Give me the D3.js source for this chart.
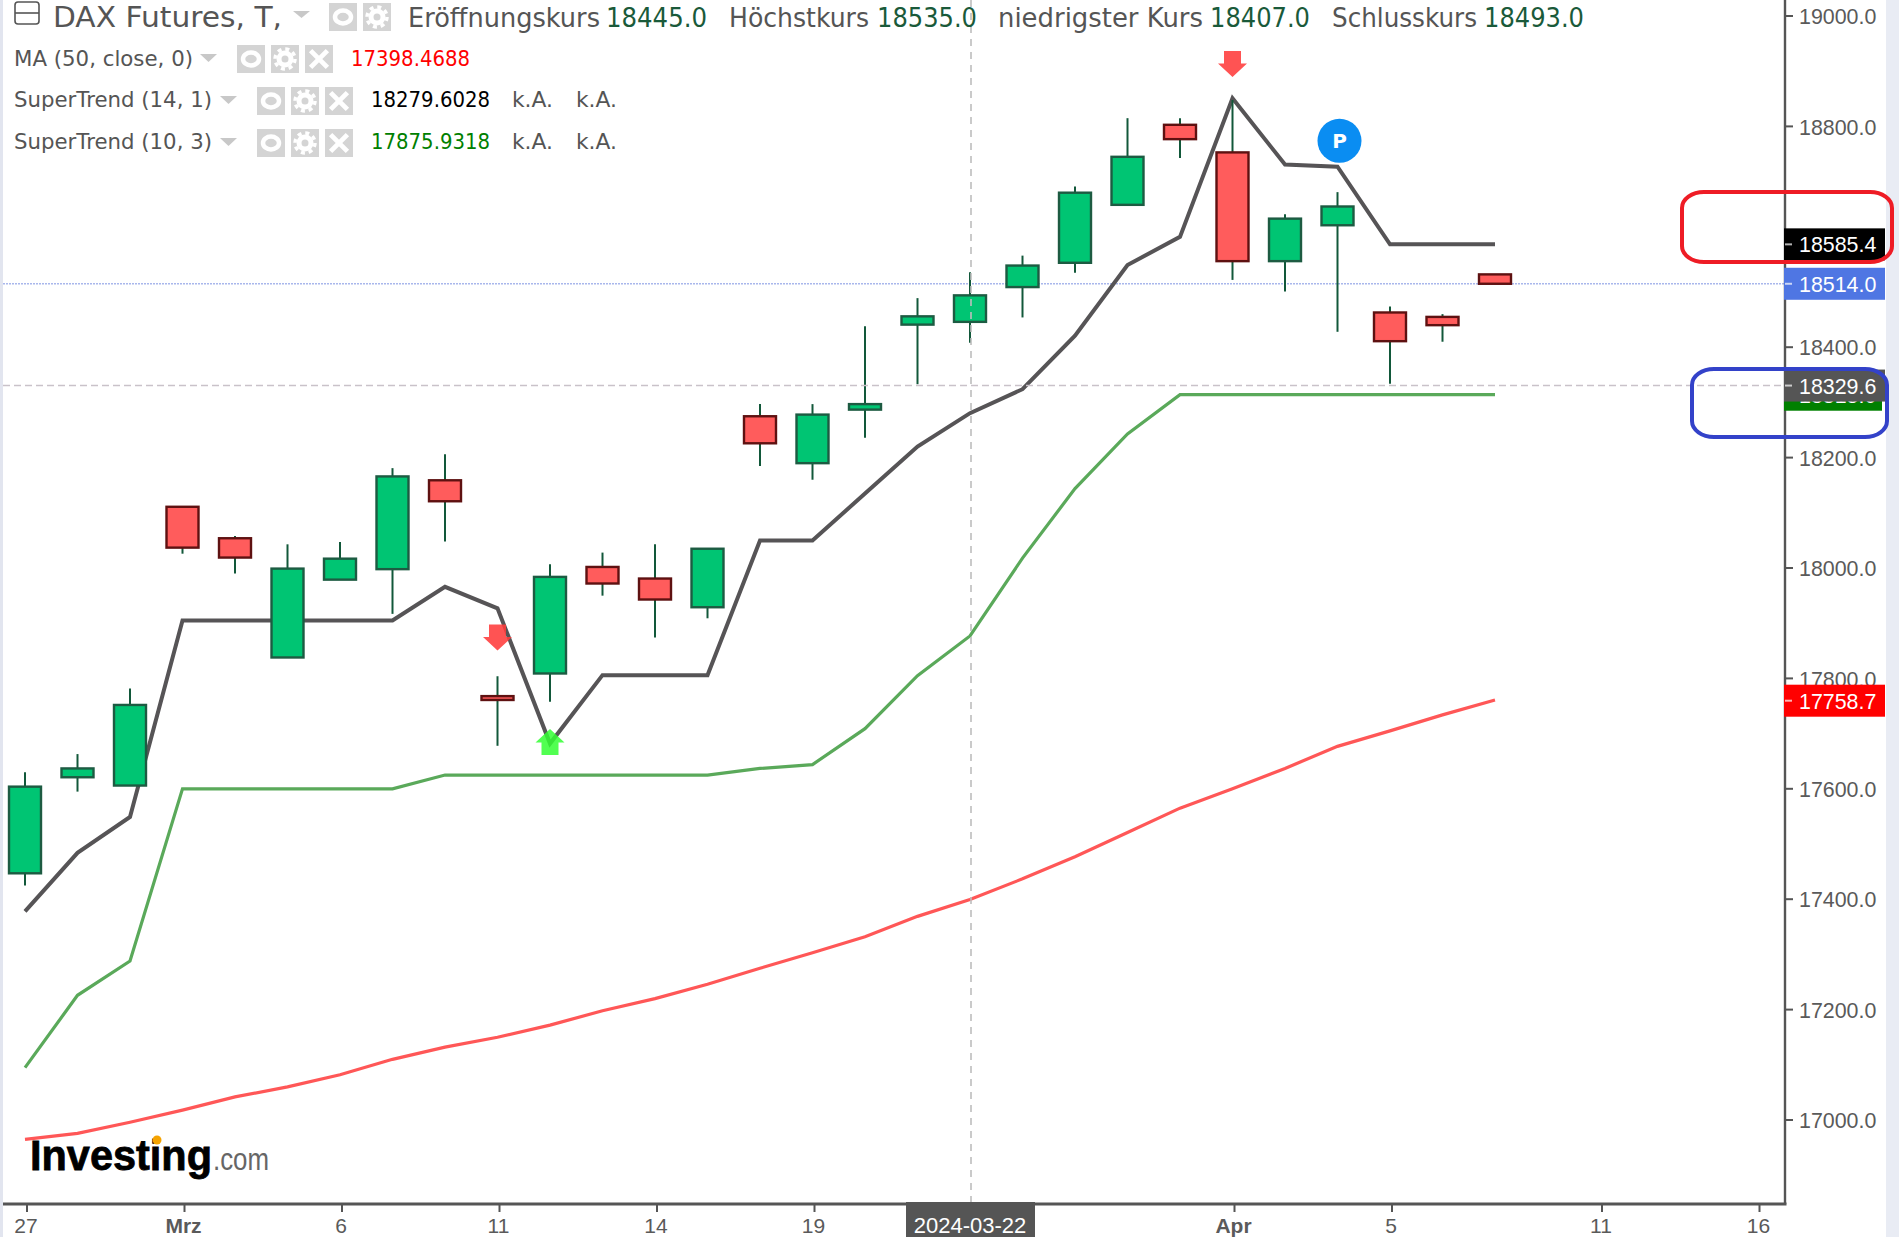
<!DOCTYPE html>
<html lang="de">
<head>
<meta charset="utf-8">
<title>DAX Futures</title>
<script src="https://cdnjs.cloudflare.com/ajax/libs/d3/7.8.5/d3.min.js"></script>
<style>
html,body{margin:0;padding:0;background:#fff;overflow:hidden}
svg{display:block}
</style>
</head>
<body>
<svg id="chart" width="1899" height="1237"></svg>
<script>
// ---------- data ----------
const opens  = [17446,17620,17605,18110,18053,17837,17978,17997,18158,17767,17808,18001,17980,17928,18274,18189,18286,18440,18445,18508,18552,18657,18802,18752,18555,18620,18462,18454,18531];
const closes = [17603,17636,17751,18036,18018,17998,18016,18165,18120,17760,17983,17971,17942,18034,18225,18277,18296,18455,18493,18547,18679,18744,18776,18555,18632,18654,18410,18439,18514];
const highs  = [17629,17662,17781,18110,18057,18042,18046,18180,18205,17803,18006,18027,18042,18034,18296,18296,18437,18488,18535,18565,18690,18814,18814,18847,18640,18680,18473,18459,18531];
const lows   = [17424,17594,17605,18025,17989,17837,17978,17916,18047,17677,17757,17949,17873,17908,18184,18159,18235,18332,18407,18453,18534,18657,18742,18521,18500,18427,18333,18409,18514];
const superTrend14 = [17377,17483,17548,17904,17904,17904,17904,17904,17965,17926,17681,17805,17805,17805,18049,18049,18134,18219,18279.6,18323,18420,18548,18599,18850,18730,18726,18585.4,18585.4,18585.4];
const superTrend10 = [17094,17225,17287,17599,17599,17599,17599,17599,17624,17624,17624,17624,17624,17624,17636,17643,17708,17804,17875.9,18017,18143,18242,18313,18313,18313,18313,18313,18313,18313];
const ma50 = [16964,16975,16995,17017,17041,17059,17081,17109,17131,17149,17171,17197,17219,17245,17274,17302,17331,17368,17398.5,17436,17476,17520,17564,17599,17636,17676,17704,17733,17760];
const yTickValues = [17000,17200,17400,17600,17800,18000,18200,18400,18600,18800,19000];
const xTickPositions = [0,3,6,9,12,15,23,26,30,33];
const xTickLabels = ["27","Mrz","6","11","14","19","Apr","5","11","16"];
const boldTickLabels = ["Mrz","Apr"];
const crosshairIndex = 18;
const crosshairDate = "2024-03-22";
const crosshairPrice = 18329.6;
const lastPrice = 18514.0;
const priceLabels = [
  {value:17758.7, fill:"#ff0000"},
  {value:18313.0, fill:"#008000"},
  {value:18585.4, fill:"#000000"},
  {value:18514.0, fill:"#4f76e3"},
  {value:18329.6, fill:"#555555"}
];
const sellArrows = [{i:9, value:17873},{i:23, value:18912}];
const buyArrows  = [{i:10, value:17684}];
const pivotMarks = [{i:25, value:18773}];
const ohlcNames  = ["Eröffnungskurs","Höchstkurs","niedrigster Kurs","Schlusskurs"];
const ohlcValues = ["18445.0","18535.0","18407.0","18493.0"];
const indicatorNames = ["MA (50, close, 0)","SuperTrend (14, 1)","SuperTrend (10, 3)"];
const indicatorValues = ["17398.4688","18279.6028","17875.9318"];
const indicatorColors = ["#ff0000","#000000","#008000"];

// ---------- scales ----------
const W = 1899, H = 1237, axisX = 1785, axisY = 1204;
const x = d3.scaleLinear().domain([0,28]).range([25,1495]);
const y = d3.scaleLinear().domain([17000,19000]).range([1119.5,15.5]);
const svg = d3.select("#chart");
const sansA = "'Liberation Sans',Arial,sans-serif";
const sansB = "'DejaVu Sans',sans-serif";

// ---------- frame ----------
svg.append("rect").attr("width",W).attr("height",H).attr("fill","#fff");
svg.append("rect").attr("x",1886).attr("width",W-1886).attr("height",H).attr("fill","#e9ecf4");
svg.append("rect").attr("width",3).attr("height",H).attr("fill","#e2e5ef");

// ---------- last price line ----------
svg.append("line").attr("x1",3).attr("x2",axisX).attr("y1",y(lastPrice)).attr("y2",y(lastPrice))
  .attr("stroke","#a9b7ec").attr("stroke-width",1.6).attr("stroke-dasharray","2 1");

// ---------- indicator lines ----------
const lineGen = d3.line().x((d,i)=>x(i)).y(d=>y(d));
[[ma50,"#ff5757",3.2],[superTrend10,"#5aa95a",3.2],[superTrend14,"#565456",4]].forEach(([s,c,w])=>{
  svg.append("path").datum(s).attr("d",lineGen).attr("fill","none").attr("stroke",c).attr("stroke-width",w).attr("stroke-linejoin","miter");
});

// ---------- candles ----------
const bw = 32;
const candles = svg.append("g").selectAll("g").data(opens.map((o,i)=>({i,o,c:closes[i],h:highs[i],l:lows[i]}))).join("g");
candles.append("line").attr("x1",d=>x(d.i)).attr("x2",d=>x(d.i)).attr("y1",d=>y(d.h)).attr("y2",d=>y(d.l))
  .attr("stroke","#12583a").attr("stroke-width",2);
candles.append("rect")
  .attr("x",d=>x(d.i)-bw/2).attr("width",bw)
  .attr("y",d=>y(Math.max(d.o,d.c)))
  .attr("height",d=>Math.abs(y(d.o)-y(d.c)))
  .attr("fill",d=>d.c>=d.o?"#00c573":"#ff5c5c")
  .attr("stroke",d=>d.c>=d.o?"#1d5b42":"#5e1111")
  .attr("stroke-width",2.4);

// ---------- markers ----------
const arrowDown = "M-8.5,-13 H8.5 V-0.5 H14.5 L0,13 L-14.5,-0.5 H-8.5 Z";
const arrowUp   = "M-8.5,13 H8.5 V0.5 H14.5 L0,-13 L-14.5,0.5 H-8.5 Z";
svg.append("g").selectAll("path").data(sellArrows).join("path").attr("d",arrowDown)
  .attr("transform",d=>`translate(${x(d.i)},${y(d.value)})`).attr("fill","#ff3b3b").attr("fill-opacity",.88);
svg.append("g").selectAll("path").data(buyArrows).join("path").attr("d",arrowUp)
  .attr("transform",d=>`translate(${x(d.i)},${y(d.value)})`).attr("fill","#33ff33").attr("fill-opacity",.85);
const pv = svg.append("g").selectAll("g").data(pivotMarks).join("g").attr("transform",d=>`translate(${x(d.i)+2},${y(d.value)})`);
pv.append("circle").attr("r",22).attr("fill","#0a8df2");
pv.append("text").text("P").attr("text-anchor","middle").attr("y",7).attr("fill","#fff")
  .attr("font-family",sansB).attr("font-weight",700).attr("font-size",20);

// ---------- crosshair ----------
svg.append("line").attr("x1",x(crosshairIndex)+1).attr("x2",x(crosshairIndex)+1).attr("y1",0).attr("y2",axisY)
  .attr("stroke","#bdbdbd").attr("stroke-width",1.6).attr("stroke-dasharray","7 6");
svg.append("line").attr("x1",3).attr("x2",axisX).attr("y1",y(crosshairPrice)).attr("y2",y(crosshairPrice))
  .attr("stroke","#c9c2c9").attr("stroke-width",1.6).attr("stroke-dasharray","7 4");

// ---------- axes ----------
const yAxis = d3.axisRight(y).tickValues(yTickValues).tickFormat(d3.format(".1f")).tickSize(8).tickPadding(6);
const gy = svg.append("g").attr("transform",`translate(${axisX},0)`).call(yAxis);
gy.select(".domain").attr("d",`M0,0V${axisY}`).attr("stroke","#555").attr("stroke-width",2.4);
gy.selectAll(".tick line").attr("stroke","#555").attr("stroke-width",2);
gy.selectAll(".tick text").attr("fill","#5a5a5a").attr("font-family",sansA).attr("font-size",21.4).attr("dy","0.38em");

const xAxis = d3.axisBottom(x).tickValues(xTickPositions)
  .tickFormat((d,i)=>xTickLabels[i]).tickSize(8).tickPadding(6);
const gx = svg.append("g").attr("transform",`translate(1.5,${axisY})`).call(xAxis);
gx.select(".domain").attr("d",`M1.5,0H${axisX}`).attr("stroke","#555").attr("stroke-width",3);
gx.selectAll(".tick line").attr("stroke","#555").attr("stroke-width",2);
gx.selectAll(".tick text").attr("fill","#5a5a5a").attr("font-family",sansA).attr("font-size",21).attr("dx",-1)
  .attr("font-weight",(d,i)=>boldTickLabels.includes(xTickLabels[i])?700:400);

// crosshair date box
const dateG = svg.append("g").attr("transform",`translate(${x(crosshairIndex)+1},${axisY})`);
dateG.append("rect").attr("x",-65).attr("width",129).attr("y",-2).attr("height",H-axisY+2).attr("fill","#555");
dateG.append("text").text(crosshairDate).attr("text-anchor","middle").attr("x",-1).attr("y",29).attr("fill","#fff")
  .attr("font-family",sansA).attr("font-size",22);

// ---------- price labels ----------
const fmt1 = d3.format(".1f");
const pl = svg.append("g").selectAll("g").data(priceLabels).join("g").attr("transform",d=>`translate(${axisX-1},${y(d.value)})`);
pl.append("rect").attr("y",-16).attr("height",32).attr("width",d=>d.fill==="#008000"?98:101).attr("fill",d=>d.fill);
pl.append("line").attr("x1",1).attr("x2",8).attr("stroke","#fff").attr("stroke-opacity",.7).attr("stroke-width",2);
pl.append("text").text(d=>fmt1(d.value)).attr("x",15).attr("y",8).attr("fill","#fff")
  .attr("font-family",sansA).attr("font-size",21.4);

// ---------- annotation outlines ----------
svg.append("rect").attr("x",1682).attr("y",192).attr("width",210).attr("height",70).attr("rx",22).attr("ry",16)
  .attr("fill","none").attr("stroke","#ee1c25").attr("stroke-width",4);
svg.append("rect").attr("x",1692).attr("y",369).attr("width",195).attr("height",68).attr("rx",22).attr("ry",16)
  .attr("fill","none").attr("stroke","#3342c9").attr("stroke-width",4);

// ---------- legend helpers ----------
function label(txt,xa,xb,base,size,fill){
  svg.append("text").text(txt).attr("x",xa).attr("y",base).attr("fill",fill)
    .attr("font-family",sansB).attr("font-size",size)
    .attr("textLength",xb-xa).attr("lengthAdjust","spacingAndGlyphs");
}
function tri(xa,xb,yt,yb){
  svg.append("path").attr("d",`M${xa},${yt}H${xb}L${(xa+xb)/2},${yb}Z`).attr("fill","#c8c8c8");
}
function icon(kind,xa,yt,w,h){
  const g = svg.append("g").attr("transform",`translate(${xa},${yt})`);
  g.append("rect").attr("width",w).attr("height",h).attr("fill","#d4d4d4");
  const cx=w/2, cy=h/2;
  if(kind==="eye"){
    g.append("ellipse").attr("cx",cx).attr("cy",cy).attr("rx",8).attr("ry",6.5).attr("fill","none").attr("stroke","#fff").attr("stroke-width",4.5);
  } else if(kind==="gear"){
    g.append("circle").attr("cx",cx).attr("cy",cy).attr("r",6).attr("fill","none").attr("stroke","#fff").attr("stroke-width",5);
    g.append("circle").attr("cx",cx).attr("cy",cy).attr("r",10).attr("fill","none").attr("stroke","#fff").attr("stroke-width",3.5).attr("stroke-dasharray","4 3.85");
  } else {
    g.append("path").attr("d",`M${w*.2},${h*.2}L${w*.8},${h*.8}M${w*.8},${h*.2}L${w*.2},${h*.8}`).attr("stroke","#fff").attr("stroke-width",w*.17);
  }
}

// ---------- header row ----------
svg.append("rect").attr("x",15).attr("y",2).attr("width",24).attr("height",22).attr("rx",3).attr("fill","none").attr("stroke","#555").attr("stroke-width",1.6);
svg.append("line").attr("x1",15).attr("x2",39).attr("y1",13).attr("y2",13).attr("stroke","#555").attr("stroke-width",1.6);
label("DAX Futures, T,",53,282,27,29,"#555");
tri(293,310,11,18);
icon("eye",329,3,28,28); icon("gear",363,3,28,28);
const hdrNameX = [[408,600],[729,869],[998,1203],[1332,1477]];
const hdrValX  = [[606,707],[877,977],[1210,1310],[1484,1584]];
ohlcNames.forEach((n,i)=>{
  label(n,hdrNameX[i][0],hdrNameX[i][1],27,26,"#555");
  label(ohlcValues[i],hdrValX[i][0],hdrValX[i][1],27,26,"#1a5a3a");
});

// ---------- indicator rows ----------
const rows = [
 {base:66, top:45, h:28, nameEnd:193, triA:200, iconX:[237,271,305], valX:[351,470]},
 {base:107,top:87, h:28, nameEnd:212, triA:220, iconX:[257,291,325], valX:[371,490]},
 {base:149,top:129,h:28, nameEnd:212, triA:220, iconX:[257,291,325], valX:[371,490]}
];
rows.forEach((r,i)=>{
  label(indicatorNames[i],14,r.nameEnd,r.base,21.5,"#555");
  tri(r.triA,r.triA+17,r.top+9,r.top+17);
  icon("eye",r.iconX[0],r.top,28,r.h); icon("gear",r.iconX[1],r.top,28,r.h); icon("x",r.iconX[2],r.top,28,r.h);
  label(indicatorValues[i],r.valX[0],r.valX[1],r.base,21.5,indicatorColors[i]);
  if(i>0){ label("k.A.",512,553,r.base,21.5,"#555"); label("k.A.",576,617,r.base,21.5,"#555"); }
});

// ---------- logo ----------
svg.append("text").text("Investing").attr("x",30).attr("y",1170).attr("fill","#000").attr("stroke","#000").attr("stroke-width",.8)
  .attr("font-family",sansA).attr("font-weight",700).attr("font-size",43)
  .attr("textLength",182).attr("lengthAdjust","spacingAndGlyphs");
svg.append("circle").attr("cx",157).attr("cy",1140).attr("r",4.5).attr("fill","#f5a300");
svg.append("text").text(".com").attr("x",213).attr("y",1170).attr("fill","#666")
  .attr("font-family",sansA).attr("font-size",32)
  .attr("textLength",56).attr("lengthAdjust","spacingAndGlyphs");
</script>
</body>
</html>
